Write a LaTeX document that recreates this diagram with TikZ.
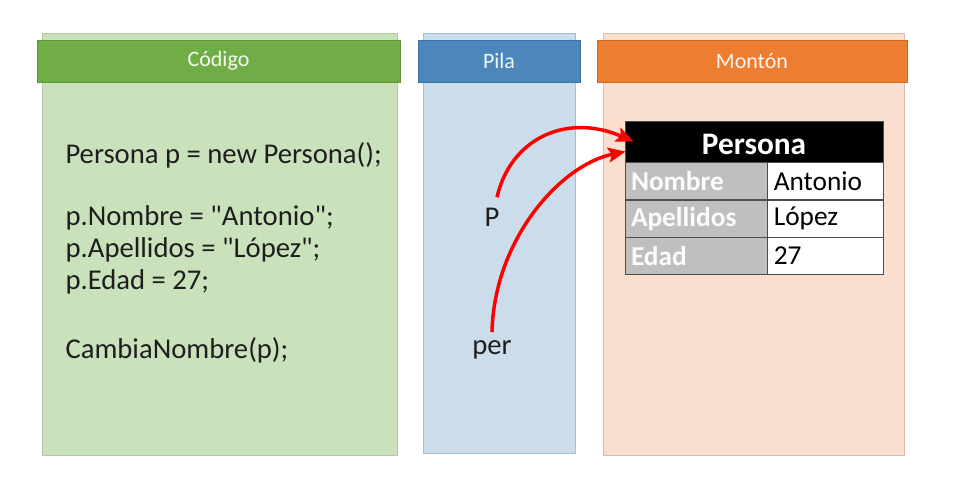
\documentclass[tikz,border=0pt]{standalone}
\usepackage{fontspec}
\setmainfont{Carlito}
\usetikzlibrary{arrows.meta,calc}

\definecolor{verdecab}{RGB}{112,173,71}
\definecolor{verdefondo}{RGB}{202,226,187}
\definecolor{azulcab}{RGB}{76,134,186}
\definecolor{azulfondo}{RGB}{203,220,234}
\definecolor{naranjacab}{RGB}{237,125,49}
\definecolor{naranjafondo}{RGB}{250,223,206}
\definecolor{grisfila}{RGB}{191,191,191}
\definecolor{texto}{RGB}{30,30,30}

\tikzset{every picture/.style={line width=0.75pt}}
\tikzset{
  cabecera/.style={fill=#1, draw=#1!85!black, line width=0.4, text=white!92!#1,
    font=\fontsize{16.5}{19}\selectfont, inner sep=0pt},
  codigo/.style={anchor=west, inner sep=0.75pt, align=left, text=texto,
    font=\fontsize{21.5}{24}\selectfont},
  campo/.style={fill=grisfila, draw=black!70, line width=0.6, text=white!95!grisfila,
    font=\fontsize{20.5}{23}\bfseries\selectfont, text width=97.5pt, inner xsep=4.5pt,
    minimum height=27.5pt, align=left},
  valor/.style={fill=white, draw=black!70, line width=0.6, text=black,
    font=\fontsize{20.5}{23}\selectfont, text width=78pt, inner xsep=4.5pt,
    minimum height=27.5pt, align=left},
  flecha/.style={draw=red, line width=2.6pt, -{Stealth[length=13pt,width=11pt,inset=2.5pt]}}
}

\begin{document}
\begin{tikzpicture}[x=0.75pt,y=0.75pt,yscale=-1,xscale=1]
\useasboundingbox (0,0) rectangle (968,500);

%Shape: Rectangle [Codigo fondo]
\draw  [draw=verdefondo!88!black, line width=0.5, fill=verdefondo]  (42,33) -- (397,33) -- (397,455) -- (42,455) -- cycle ;
%Shape: Rectangle [Pila fondo]
\draw  [draw=azulfondo!85!black, line width=0.5, fill=azulfondo]  (423,33) -- (575,33) -- (575,453) -- (423,453) -- cycle ;
%Shape: Rectangle [Monton fondo]
\draw  [draw=naranjafondo!85!black, line width=0.5, fill=naranjafondo]  (603,33) -- (904,33) -- (904,455) -- (603,455) -- cycle ;

% Cabeceras
\draw (218.5,61) node [cabecera=verdecab, minimum width=272.25pt, minimum height=31.5pt] (codigo) {Código};
\draw (499,61) node [cabecera=azulcab, minimum width=121.5pt, minimum height=31.5pt] (pila) {Pila};
\draw (752,61) node [cabecera=naranjacab, minimum width=232.5pt, minimum height=31.5pt] (monton) {Montón};

% Text Node
\draw (64,155) node [codigo] (declaracion) {Persona p = new Persona();};
% Text Node
\draw (64,250) node [codigo] (asignaciones) {p.Nombre = \textquotedbl Antonio\textquotedbl;\\p.Apellidos = \textquotedbl López\textquotedbl;\\p.Edad = 27;};
% Text Node
\draw (64,350) node [codigo] (llamada) {CambiaNombre(p);};

% Text Node
\draw (492,217) node [inner sep=0.75pt, text=texto, font=\fontsize{21.5}{24}\selectfont] (pvar) {P};
% Text Node
\draw (492,350) node [inner sep=0.75pt, text=texto, font=\fontsize{21.5}{24}\selectfont] (per) {per};

% Tabla Persona
\draw (754,141.5) node [fill=black, draw=black!70, line width=0.6, text=white, minimum width=193.5pt, minimum height=30.75pt, inner sep=0pt, text height=19pt, text depth=0pt, font=\fontsize{23.5}{26}\bfseries\selectfont] (persona) {Persona};
\draw (persona.south west) node [campo, anchor=north west] (nombre) {Nombre};
\draw (nombre.north east) node [valor, anchor=north west] (antonio) {Antonio};
\draw (nombre.south west) node [campo, anchor=north west] (apellidos) {Apellidos};
\draw (apellidos.north east) node [valor, anchor=north west] (lopez) {López};
\draw (apellidos.south west) node [campo, anchor=north west] (edad) {Edad};
\draw (edad.north east) node [valor, anchor=north west] (veintisiete) {27};

% Referencias
\draw [flecha] ($(pvar.north)+(5,-9)$) .. controls (510,140) and (565,112) .. ($(persona.west)+(9,0)$) ;
\draw [flecha] ($(per.north)+(0,-7)$) .. controls (494,240) and (560,165) .. ($(persona.west)+(1,10)$) ;

\end{tikzpicture}
\end{document}
